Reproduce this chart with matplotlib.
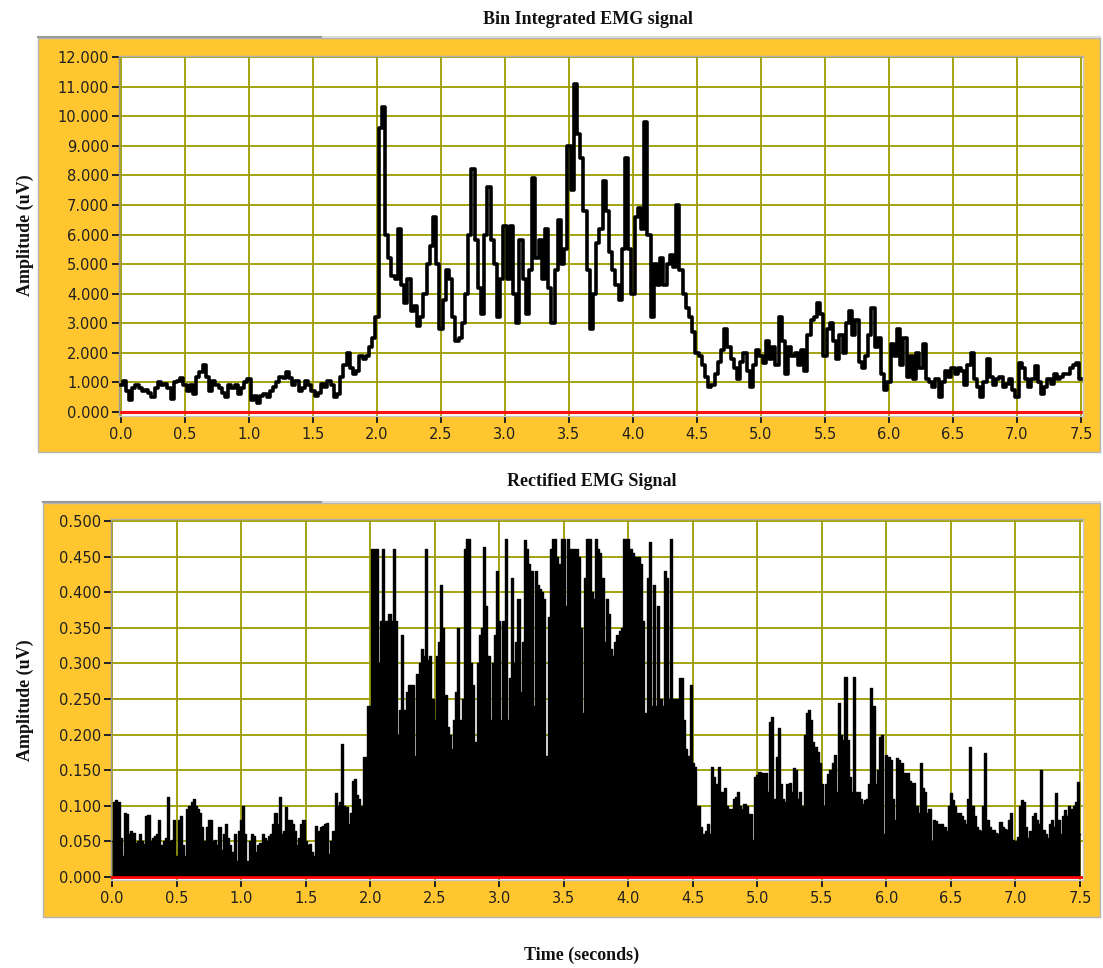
import numpy as np
import matplotlib
matplotlib.use("Agg")
import matplotlib.pyplot as plt
from matplotlib.patches import Rectangle
from matplotlib.lines import Line2D
from matplotlib.ticker import FormatStrFormatter

# ---- Bin integrated EMG, values in thousands of uV, one bin every 0.025 s ----
bin_0_20 = [0.9, 1.05, 0.7, 0.4, 0.8, 0.9, 0.8, 0.7, 0.75, 0.65,
            0.5, 0.8, 1.0, 0.9, 0.95, 0.8, 0.45, 1.0, 1.05, 1.15,
            0.9, 0.7, 0.9, 0.6, 1.2, 1.35, 1.6, 1.2, 0.7, 1.05,
            0.9, 0.8, 0.65, 0.5, 0.9, 0.8, 0.9, 0.6, 0.8, 1.0,
            1.1, 0.4, 0.55, 0.3, 0.55, 0.6, 0.5, 0.7, 0.85, 1.0,
            1.2, 1.15, 1.35, 1.15, 0.9, 1.05, 0.7, 0.8, 1.05, 0.9,
            0.7, 0.55, 0.65, 0.95, 0.85, 1.05, 0.9, 0.5, 0.6, 1.2,
            1.6, 2.0, 1.5, 1.3, 1.4, 1.9, 1.8, 1.9, 2.2, 2.5]
bin_20_35 = [3.2, 9.6, 10.3, 6.0, 5.2, 4.6, 4.5, 6.2, 4.3, 3.7,
             4.5, 3.4, 3.6, 2.9, 3.2, 4.0, 5.0, 5.6, 6.6, 5.0,
             2.8, 3.8, 4.8, 4.5, 3.2, 2.4, 2.5, 3.0, 4.0, 6.0,
             8.2, 5.8, 4.2, 3.3, 6.0, 7.6, 5.8, 5.0, 3.2, 4.5,
             6.3, 4.5, 6.3, 4.0, 3.0, 5.8, 4.5, 3.3, 4.8, 7.9,
             5.2, 5.8, 4.5, 6.2, 4.2, 3.0, 4.8, 6.5, 5.0, 5.5,
             9.0]
bin_35_45 = [7.5, 11.1, 9.4, 8.6, 6.8, 4.8, 2.8, 4.0, 5.7, 6.2,
             7.8, 6.8, 5.4, 4.8, 4.3, 3.8, 5.5, 8.6, 5.5, 4.0,
             6.6, 6.9, 6.2, 9.8, 6.0, 3.2, 5.0, 4.3, 5.2, 4.3,
             5.0, 5.3, 4.9, 7.0, 4.8, 4.0, 3.5, 3.2, 2.7, 2.0]
bin_45_75 = [1.9, 1.6, 1.2, 0.85, 0.9, 1.3, 1.7, 2.1, 2.8, 2.2,
             1.8, 1.5, 1.1, 1.7, 2.0, 1.4, 0.85, 1.6, 2.1, 1.9,
             1.65, 2.4, 1.8, 2.2, 1.6, 3.2, 2.4, 1.3, 2.2, 1.9,
             2.0, 1.6, 2.1, 1.4, 2.6, 3.1, 3.2, 3.7, 3.3, 1.9,
             2.8, 3.0, 2.4, 1.8, 2.6, 2.0, 3.0, 3.4, 2.6, 3.1,
             1.7, 1.5, 1.9, 2.6, 3.5, 2.2, 2.5, 1.3, 0.75, 1.0,
             2.3, 1.9, 2.8, 1.6, 2.5, 1.2, 1.9, 1.1, 2.0, 1.5,
             2.3, 1.1, 1.0, 0.85, 1.1, 0.5, 1.0, 1.4, 1.2, 1.5,
             1.3, 1.5, 1.4, 0.9, 1.6, 2.0, 1.1, 0.85, 0.5, 1.0,
             1.8, 1.2, 0.9, 1.1, 1.2, 0.85, 0.95, 1.1, 0.75, 0.5,
             1.65, 1.5, 1.1, 0.85, 1.1, 1.55, 1.0, 0.6, 0.85, 1.1,
             0.95, 1.3, 1.1, 1.2, 1.3, 1.3, 1.5, 1.6, 1.65, 1.1]

# ---- Rectified EMG (uV), one value every 1/60 s, split per half second ----
rect_00 = [0.05, 0.105, 0.108, 0.105, 0.055, 0.03, 0.09, 0.088, 0.06, 0.065,
           0.062, 0.048, 0.05, 0.06, 0.05, 0.047, 0.085, 0.087, 0.05, 0.055,
           0.058, 0.06, 0.08, 0.045, 0.05, 0.055, 0.112, 0.05, 0.052, 0.08]
rect_05 = [0.03, 0.08, 0.085, 0.045, 0.03, 0.095, 0.1, 0.105, 0.11, 0.1,
           0.095, 0.09, 0.07, 0.05, 0.07, 0.08, 0.08, 0.05, 0.052, 0.045,
           0.07, 0.038, 0.06, 0.075, 0.055, 0.045, 0.035, 0.06, 0.022, 0.065]
rect_10 = [0.08, 0.1, 0.06, 0.023, 0.05, 0.06, 0.058, 0.035, 0.045, 0.048,
           0.06, 0.055, 0.05, 0.058, 0.06, 0.075, 0.09, 0.075, 0.112, 0.06,
           0.065, 0.098, 0.08, 0.08, 0.075, 0.065, 0.045, 0.055, 0.075, 0.08]
rect_15 = [0.05, 0.045, 0.047, 0.035, 0.03, 0.072, 0.065, 0.07, 0.072, 0.075,
           0.076, 0.032, 0.05, 0.065, 0.118, 0.1, 0.105, 0.187, 0.1, 0.098,
           0.075, 0.09, 0.135, 0.138, 0.115, 0.11, 0.1, 0.168, 0.168, 0.24]
rect_20 = [0.24, 0.46, 0.46, 0.46, 0.3, 0.36, 0.46, 0.36, 0.36, 0.37,
           0.36, 0.46, 0.36, 0.2, 0.235, 0.34, 0.235, 0.26, 0.27, 0.27,
           0.27, 0.17, 0.285, 0.3, 0.32, 0.31, 0.46, 0.305, 0.31, 0.25]
rect_25 = [0.22, 0.31, 0.33, 0.41, 0.35, 0.255, 0.21, 0.2, 0.18, 0.22,
           0.26, 0.35, 0.22, 0.25, 0.46, 0.475, 0.475, 0.3, 0.27, 0.19,
           0.3, 0.34, 0.35, 0.463, 0.38, 0.31, 0.22, 0.3, 0.34, 0.43]
rect_30 = [0.36, 0.22, 0.36, 0.475, 0.22, 0.28, 0.42, 0.3, 0.33, 0.39,
           0.26, 0.33, 0.473, 0.46, 0.44, 0.43, 0.24, 0.43, 0.41, 0.405,
           0.4, 0.39, 0.17, 0.365, 0.46, 0.475, 0.475, 0.45, 0.44, 0.475]
rect_35 = [0.475, 0.38, 0.475, 0.46, 0.46, 0.46, 0.46, 0.45, 0.35, 0.23,
           0.42, 0.475, 0.475, 0.4, 0.39, 0.475, 0.46, 0.455, 0.42, 0.33,
           0.39, 0.37, 0.32, 0.31, 0.33, 0.34, 0.345, 0.35, 0.475, 0.475]
rect_40 = [0.475, 0.46, 0.455, 0.45, 0.45, 0.45, 0.44, 0.36, 0.23, 0.42,
           0.47, 0.24, 0.41, 0.24, 0.38, 0.25, 0.24, 0.43, 0.42, 0.25,
           0.475, 0.25, 0.25, 0.25, 0.28, 0.28, 0.22, 0.18, 0.17, 0.27]
rect_45 = [0.16, 0.155, 0.1, 0.1, 0.07, 0.06, 0.065, 0.075, 0.06, 0.155,
           0.14, 0.13, 0.155, 0.12, 0.12, 0.125, 0.1, 0.095, 0.095, 0.11,
           0.112, 0.12, 0.1, 0.095, 0.103, 0.1, 0.089, 0.089, 0.052, 0.14]
rect_50 = [0.143, 0.148, 0.146, 0.146, 0.146, 0.12, 0.218, 0.225, 0.11, 0.169,
           0.209, 0.13, 0.11, 0.105, 0.13, 0.132, 0.12, 0.153, 0.15, 0.11,
           0.12, 0.1, 0.2, 0.23, 0.235, 0.22, 0.19, 0.183, 0.175, 0.16]
rect_55 = [0.13, 0.1, 0.13, 0.145, 0.15, 0.16, 0.171, 0.12, 0.244, 0.2,
           0.192, 0.281, 0.192, 0.14, 0.12, 0.281, 0.12, 0.12, 0.11, 0.103,
           0.108, 0.11, 0.13, 0.265, 0.24, 0.13, 0.15, 0.197, 0.2, 0.06]
rect_60 = [0.171, 0.168, 0.165, 0.11, 0.08, 0.167, 0.165, 0.16, 0.146, 0.146,
           0.146, 0.135, 0.132, 0.132, 0.1, 0.09, 0.16, 0.125, 0.12, 0.09,
           0.095, 0.05, 0.08, 0.078, 0.075, 0.075, 0.075, 0.07, 0.064, 0.1]
rect_65 = [0.118, 0.108, 0.1, 0.09, 0.09, 0.085, 0.08, 0.075, 0.11, 0.183,
           0.1, 0.085, 0.07, 0.066, 0.065, 0.1, 0.174, 0.08, 0.07, 0.066,
           0.066, 0.062, 0.06, 0.077, 0.07, 0.068, 0.066, 0.08, 0.09, 0.052]
rect_70 = [0.05, 0.056, 0.1, 0.108, 0.105, 0.07, 0.055, 0.065, 0.085, 0.09,
           0.08, 0.075, 0.15, 0.066, 0.06, 0.055, 0.075, 0.08, 0.07, 0.118,
           0.08, 0.06, 0.085, 0.094, 0.085, 0.1, 0.095, 0.1, 0.105, 0.134, 0.06]

x_ticks = [0.0, 0.5, 1.0, 1.5, 2.0, 2.5, 3.0, 3.5, 4.0, 4.5, 5.0, 5.5, 6.0, 6.5, 7.0, 7.5]
top_yticks = list(range(0, 13))
bottom_yticks = [0.0, 0.05, 0.1, 0.15, 0.2, 0.25, 0.3, 0.35, 0.4, 0.45, 0.5]

bin_vals = bin_0_20 + bin_20_35 + bin_35_45 + bin_45_75
rect_vals = (rect_00 + rect_05 + rect_10 + rect_15 + rect_20 + rect_25 + rect_30 +
             rect_35 + rect_40 + rect_45 + rect_50 + rect_55 + rect_60 + rect_65 + rect_70)
t_bin = np.linspace(0, 7.5, len(bin_vals))
t_rect = np.linspace(0, 7.5, len(rect_vals))

W, H = 1103, 968
ORANGE = "#FFC630"
GRID = "#9c9c00"


def fx(px):
    return px / W


def fy(py):
    return 1 - py / H


fig = plt.figure(figsize=(W / 100, H / 100), dpi=100)
fig.patch.set_facecolor("white")


def frame(x0, y0, x1, y1):
    fig.add_artist(Rectangle((fx(x0), fy(y1)), fx(x1) - fx(x0), fy(y0) - fy(y1),
                             transform=fig.transFigure, facecolor=ORANGE,
                             edgecolor="#b4b4b4", lw=1, zorder=0))
    fig.add_artist(Line2D([fx(x0), fx(1100)], [fy(y0 - 1), fy(y0 - 1)],
                          transform=fig.transFigure, color="#dcdcdc", lw=1.5))
    fig.add_artist(Line2D([fx(x0), fx(321)], [fy(y0 - 1), fy(y0 - 1)],
                          transform=fig.transFigure, color="#9a9a9a", lw=1.5))


def make_axes(x0, y0, x1, y1):
    ax = fig.add_axes([fx(x0), fy(y1), fx(x1) - fx(x0), fy(y0) - fy(y1)])
    ax.set_facecolor("white")
    ax.set_axisbelow(True)
    ax.grid(True, color=GRID, lw=1.3)
    for s in ax.spines.values():
        s.set_color("#c8c8c8")
        s.set_linewidth(1)
    ax.spines["left"].set_color("#9a9a9a")
    ax.spines["top"].set_color("#b0b0b0")
    ax.tick_params(axis="both", direction="out", length=5, width=1.4,
                   color="#202020", labelcolor="#202020", labelsize=10.5)
    ax.tick_params(axis="x", pad=3, length=5)
    ax.tick_params(axis="y", pad=2)
    ax.set_xticks(x_ticks)
    ax.xaxis.set_major_formatter(FormatStrFormatter("%.1f"))
    ax.yaxis.set_major_formatter(FormatStrFormatter("%.3f"))
    return ax


# top panel
frame(38, 38, 1100, 452)
ax1 = make_axes(119, 56, 1083, 416)
ax1.plot(t_bin, bin_vals, drawstyle="steps-mid", color="black", lw=2.6, zorder=3)
ax1.axhline(0, color="#ff1010", lw=2.2, zorder=2)
ax1.set_yticks(top_yticks)
ax1.set_xlim(-0.0156, 7.516)
ax1.set_ylim(-0.135, 12.034)

# bottom panel
frame(43, 503, 1100, 917)
ax2 = make_axes(111, 519, 1083, 880)
ax2.fill_between(t_rect, 0, rect_vals, step="mid", color="black", lw=0, zorder=2)
ax2.plot(t_rect, rect_vals, drawstyle="steps-mid", color="black", lw=1.0, zorder=3)
ax2.axhline(0, color="#ff0000", lw=2.0, zorder=4)
ax2.set_yticks(bottom_yticks)
ax2.set_xlim(-0.0077, 7.523)
ax2.set_ylim(-0.0042, 0.5028)

serif = dict(family="Liberation Serif", weight="bold", size=13, color="#111111")
fig.text(fx(588), fy(20), "Bin Integrated EMG signal", ha="center", va="center", **serif)
fig.text(fx(592), fy(481), "Rectified EMG Signal", ha="center", va="center", **serif)
fig.text(fx(25), fy(235), "Amplitude (uV)", rotation=90, ha="center", va="center", **serif)
fig.text(fx(25), fy(700), "Amplitude (uV)", rotation=90, ha="center", va="center", **serif)
fig.text(fx(582), fy(955), "Time (seconds)", ha="center", va="center", **serif)

fig.savefig("out.png", dpi=100)
